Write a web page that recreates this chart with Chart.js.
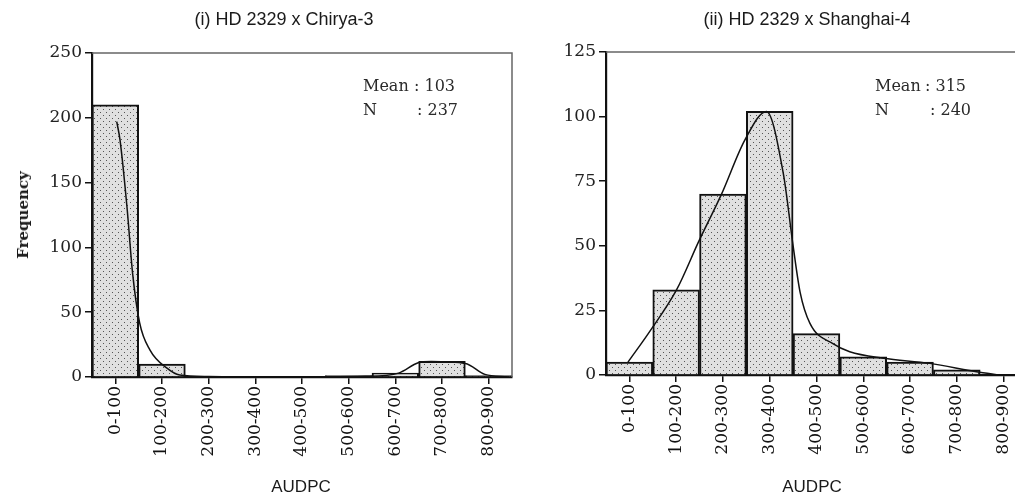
<!DOCTYPE html>
<html lang="en">
<head>
    <meta charset="UTF-8">
    <title>AUDPC frequency distributions</title>
    <script src="https://cdn.jsdelivr.net/npm/chart.js@4"></script>
    <style>
        body { margin: 0; background: #fff; }
        #page { position: relative; width: 1015px; height: 499px; overflow: hidden; }
        .panel { position: absolute; top: 0; width: 520px; height: 499px; }
        .txt { position: absolute; white-space: nowrap; color: #1a1a1a; }
        .title { font: 18px "Liberation Sans", Arial, sans-serif; transform: translate(-50%, -50%); }
        .xlab { font: 17px "Liberation Sans", Arial, sans-serif; transform: translate(-50%, -50%); }
        .note { font: 16px "DejaVu Serif", serif; transform: translateY(-50%); color: #2a2a2a; }
        .ylab { font: bold 15px "DejaVu Serif", serif; transform: translate(-50%, -50%) rotate(-90deg); color: #1a1a1a; }
    </style>
</head>
<body>
<div id="page">
    <div class="panel" style="left:0"><canvas id="chartA" width="520" height="499"></canvas></div>
    <div class="panel" style="left:515px"><canvas id="chartB" width="520" height="499"></canvas></div>

    <div class="txt title" style="left:284px; top:19px">(i) HD 2329 x Chirya-3</div>
    <div class="txt title" style="left:807px; top:19px">(ii) HD 2329 x Shanghai-4</div>
    <div class="txt xlab" style="left:301px; top:487px">AUDPC</div>
    <div class="txt xlab" style="left:812px; top:487px">AUDPC</div>
    <div class="txt ylab" style="left:23px; top:215px">Frequency</div>

    <div class="txt note" style="left:363px; top:85px">Mean</div>
    <div class="txt note" style="left:414px; top:85px">: 103</div>
    <div class="txt note" style="left:363px; top:109px">N</div>
    <div class="txt note" style="left:417px; top:109px">: 237</div>

    <div class="txt note" style="left:875px; top:85px">Mean</div>
    <div class="txt note" style="left:925px; top:85px">: 315</div>
    <div class="txt note" style="left:875px; top:109px">N</div>
    <div class="txt note" style="left:930px; top:109px">: 240</div>
</div>
<script>
    const classes = ['0-100', '100-200', '200-300', '300-400', '400-500',
                     '500-600', '600-700', '700-800', '800-900'];

    // (i) HD 2329 x Chirya-3
    const countsA = [210, 10, 0, 0, 0, 1, 3, 12, 1];
    const yTicksA = [0, 50, 100, 150, 200, 250];
    const curveAudpcA = [53, 60, 75, 87, 102, 124, 160, 188, 250, 400, 586, 657, 699, 727, 800, 842, 891];
    const curveFreqA  = [197, 183, 131, 80, 42, 21, 7, 1.5, 0.3, 0, 0.5, 3, 11, 12, 10.5, 2, 0];

    // (ii) HD 2329 x Shanghai-4
    const countsB = [5, 33, 70, 102, 16, 7, 5, 2, 0];
    const yTicksB = [0, 25, 50, 75, 100, 125];
    const curveAudpcB = [47, 94, 151, 199, 247, 297, 343, 379, 400, 415, 436, 486, 521, 593, 692, 792, 842];
    const curveFreqB  = [5, 17, 33, 52, 70, 91, 102, 78, 50, 32, 20, 12, 9, 6.5, 4.5, 1.3, 0];

    function stipple() {
        const c = document.createElement('canvas');
        c.width = 6; c.height = 6;
        const g = c.getContext('2d');
        g.fillStyle = '#e0e0e0';
        g.fillRect(0, 0, 6, 6);
        g.fillStyle = '#555';
        g.fillRect(1, 1, 1, 1);
        g.fillRect(4, 4, 1, 1);
        return g.createPattern(c, 'repeat');
    }

    const frame = {
        id: 'frame',
        afterDraw(chart) {
            const a = chart.chartArea, ctx = chart.ctx;
            ctx.save();
            ctx.strokeStyle = '#666';
            ctx.lineWidth = 1.5;
            ctx.beginPath();
            ctx.moveTo(a.left, a.top);
            ctx.lineTo(a.right, a.top);
            ctx.lineTo(a.right, a.bottom);
            ctx.stroke();
            ctx.restore();
        }
    };

    function histogram(id, counts, ticks, audpc, freq, box) {
        const serif = { family: '"DejaVu Serif", serif', size: 17 };
        new Chart(document.getElementById(id), {
            type: 'bar',
            data: {
                labels: classes,
                datasets: [{
                    type: 'line',
                    xAxisID: 'x2',
                    data: audpc.map((x, i) => ({ x: x, y: freq[i] })),
                    borderColor: '#111',
                    borderWidth: 1.5,
                    pointRadius: 0,
                    cubicInterpolationMode: 'monotone',
                    order: 1
                }, {
                    data: counts,
                    backgroundColor: stipple(),
                    borderColor: '#111',
                    borderWidth: 2,
                    barPercentage: 1,
                    categoryPercentage: 1,
                    grouped: false,
                    order: 2
                }]
            },
            options: {
                responsive: false,
                animation: false,
                layout: { padding: { top: box.top, right: 8, left: 0, bottom: 0 } },
                plugins: { legend: { display: false }, tooltip: { enabled: false } },
                scales: {
                    x: {
                        ticks: { font: serif, color: '#111', minRotation: 90, maxRotation: 90, autoSkip: false, padding: 2 },
                        grid: { offset: false, drawOnChartArea: false, tickLength: 7, color: '#111', lineWidth: 1.5 },
                        border: { color: '#111', width: 2.2 },
                        afterFit: s => { s.height = 499 - box.bottom; }
                    },
                    x2: { type: 'linear', display: false, offset: false, min: 0, max: 900 },
                    y: {
                        min: 0,
                        max: ticks[ticks.length - 1],
                        afterBuildTicks: s => { s.ticks = ticks.map(v => ({ value: v })); },
                        ticks: { font: serif, color: '#222', padding: 3 },
                        grid: { drawOnChartArea: false, tickLength: 7, color: '#111', lineWidth: 1.5 },
                        border: { color: '#111', width: 2.2 },
                        afterFit: s => { s.width = box.left; }
                    }
                }
            },
            plugins: [frame]
        });
    }

    histogram('chartA', countsA, yTicksA, curveAudpcA, curveFreqA, { left: 92, top: 53, bottom: 377 });
    histogram('chartB', countsB, yTicksB, curveAudpcB, curveFreqB, { left: 91, top: 52, bottom: 375 });
</script>
</body>
</html>
